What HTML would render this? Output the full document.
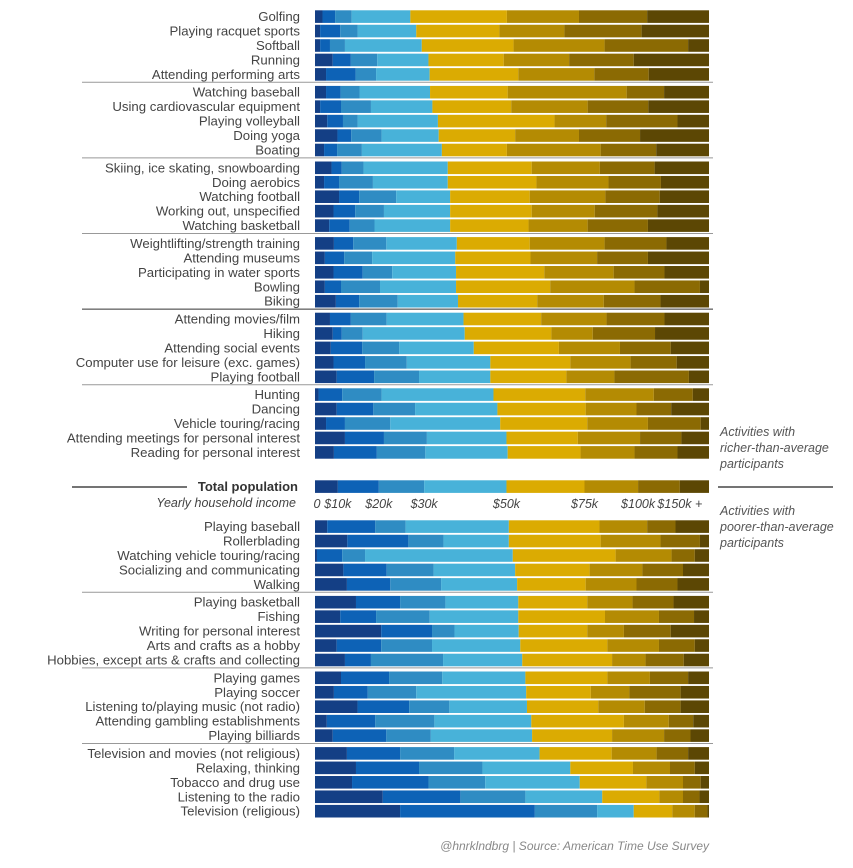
<!DOCTYPE html>
<html><head><meta charset="utf-8"><style>
html,body{margin:0;padding:0;background:#fff;}
svg{display:block;font-family:"Liberation Sans",sans-serif;}
</style></head><body>
<svg id="chart" width="853" height="868" viewBox="0 0 853 868">
<g id="seps"></g>
<g id="bars"></g>
<g id="labels"></g>
<line x1="72" y1="487" x2="187" y2="487" stroke="#222" stroke-width="1.3"/>
<line x1="718" y1="487" x2="833" y2="487" stroke="#222" stroke-width="1.3"/>
<text x="298" y="491" text-anchor="end" font-size="13" font-weight="bold" fill="#333">Total population</text>
<text x="296" y="507" text-anchor="end" font-size="12.5" font-style="italic" fill="#444">Yearly household income</text>
<g id="ticks"></g>
<g font-size="12.5" font-style="italic" fill="#555">
<text x="720" y="436">Activities with</text><text x="720" y="452">richer-than-average</text><text x="720" y="468">participants</text></g>
<g font-size="12.5" font-style="italic" fill="#555">
<text x="720" y="515">Activities with</text><text x="720" y="531">poorer-than-average</text><text x="720" y="547">participants</text></g>
<text x="709" y="850" text-anchor="end" font-size="12" font-style="italic" fill="#888">@hnrklndbrg | Source: American Time Use Survey</text>
</svg>
<script>
const brackets = ["0","$10k","$20k","$30k","$50k","$75k","$100k","$150k +"];
const colors = ["#143f85","#0d62b6","#2f8cc3","#48b2d9","#dbab02","#b48b03","#8b6a03","#5c4704"];
const topActivities = ["Golfing","Playing racquet sports","Softball","Running","Attending performing arts",
"Watching baseball","Using cardiovascular equipment","Playing volleyball","Doing yoga","Boating",
"Skiing, ice skating, snowboarding","Doing aerobics","Watching football","Working out, unspecified","Watching basketball",
"Weightlifting/strength training","Attending museums","Participating in water sports","Bowling","Biking",
"Attending movies/film","Hiking","Attending social events","Computer use for leisure (exc. games)","Playing football",
"Hunting","Dancing","Vehicle touring/racing","Attending meetings for personal interest","Reading for personal interest"];
// cumulative % of participants below each bracket boundary
const topCumulative = [
[1.9,5.1,9.3,24.2,48.7,67.0,84.3],[1.3,6.4,10.8,25.7,46.8,63.3,82.9],[1.3,3.8,7.6,27.1,50.4,73.5,94.7],[4.5,9.1,15.8,28.8,47.9,64.5,80.9],[2.8,10.3,15.5,29.1,51.6,70.9,84.7],
[2.8,6.5,11.3,29.2,48.9,79.1,88.6],[1.3,6.6,14.2,29.8,49.8,69.2,84.6],[3.1,7.1,10.8,31.2,60.8,73.9,92.0],[5.7,9.2,16.9,31.4,50.8,67.0,82.5],[2.3,5.6,11.9,32.2,48.7,72.5,86.6],
[4.2,6.8,12.3,33.7,55.0,72.3,86.2],[2.3,6.1,14.7,33.7,56.2,74.5,87.8],[6.1,11.2,20.6,34.3,54.5,73.7,87.5],[4.7,10.2,17.5,34.3,55.0,71.0,86.9],[3.6,8.8,15.1,34.3,54.2,69.2,84.5],
[4.8,9.7,18.1,36.0,54.5,73.5,89.2],[2.5,7.4,14.5,35.6,54.7,71.6,84.5],[4.7,12.1,19.6,35.8,58.2,75.8,88.7],[2.5,6.6,16.5,35.8,59.7,81.1,97.7],[5.3,11.2,21.0,36.3,56.4,73.3,87.7],
[3.8,9.1,18.2,37.7,57.4,74.0,88.7],[4.5,6.8,12.1,38.0,60.0,70.5,86.3],[4.0,12.0,21.4,40.3,61.9,77.4,90.3],[4.7,12.7,23.3,44.5,64.8,80.1,91.8],[5.5,15.0,26.4,44.5,63.8,76.0,94.9],
[0.9,6.9,16.9,45.3,68.6,86.0,95.9],[5.5,14.8,25.4,46.3,68.7,81.6,90.4],[2.8,7.6,19.1,47.0,69.1,84.5,97.9],[7.6,17.5,28.4,48.6,66.7,82.5,93.0],[4.8,15.7,28.0,48.9,67.4,81.1,92.0]];
const totalCumulative = [5.8,16.2,27.7,48.6,68.4,82.0,92.6];
const bottomActivities = ["Playing baseball","Rollerblading","Watching vehicle touring/racing","Socializing and communicating","Walking",
"Playing basketball","Fishing","Writing for personal interest","Arts and crafts as a hobby","Hobbies, except arts & crafts and collecting",
"Playing games","Playing soccer","Listening to/playing music (not radio)","Attending gambling establishments","Playing billiards",
"Television and movies (not religious)","Relaxing, thinking","Tobacco and drug use","Listening to the radio","Television (religious)"];
const bottomCumulative = [
[3.1,15.3,23.0,49.2,72.2,84.3,91.5],[8.2,23.7,32.6,49.2,72.5,87.7,97.7],[0.5,6.9,12.7,50.2,76.3,90.5,96.4],[7.2,18.2,30.1,50.8,69.7,83.1,93.4],[8.1,19.1,32.0,51.3,68.7,81.6,92.0],
[10.4,21.6,33.1,51.6,69.1,80.6,91.0],[6.4,15.5,29.1,51.6,73.6,87.3,96.2],[16.8,29.7,35.4,51.7,69.1,78.4,90.3],[5.5,16.8,29.7,52.1,74.2,87.3,96.4],[7.6,14.2,32.5,52.6,75.4,83.9,93.6],
[6.6,18.8,32.3,53.4,74.2,85.0,94.7],[4.8,13.4,25.7,53.6,70.0,79.8,92.8],[10.8,23.9,34.1,53.8,71.9,83.7,92.8],[3.0,15.3,30.3,54.9,78.4,89.8,96.0],[4.5,18.1,29.4,55.1,75.4,88.6,95.3],
[8.1,21.6,35.3,57.0,75.3,86.7,94.7],[10.4,26.4,42.5,64.8,80.7,90.1,96.4],[9.4,28.8,43.2,67.2,84.1,93.4,97.9],[17.2,36.9,53.4,72.9,87.4,93.4,97.6],[21.6,55.8,71.6,80.9,90.7,96.4,99.6]];

const NS="http://www.w3.org/2000/svg";
const X0=315, X1=709, BH=12.6;
const xScale = p => X0 + (X1-X0)*p/100;
const slug = s => s.toLowerCase().replace(/[^a-z0-9]+/g,'-').replace(/^-|-$/g,'');
function mk(tag, attrs, parent){const e=document.createElementNS(NS,tag);for(const k in attrs)e.setAttribute(k,attrs[k]);parent.appendChild(e);return e;}
const gb=document.getElementById('bars'), gl=document.getElementById('labels'), gs=document.getElementById('seps'), gt=document.getElementById('ticks');

function drawBar(cum, y, name){
  const g=mk('g',{},gb);
  
  
  const edges=[0].concat(cum,[100]);
  for(let i=0;i<8;i++){
    const r=mk('rect',{x:xScale(edges[i]),y:y,width:Math.max(0,xScale(edges[i+1])-xScale(edges[i])),height:BH,fill:colors[i]},g);
    
    
  }
}
function drawLabel(text, y){
  const t=mk('text',{x:300,y:y+BH/2+4.5,'text-anchor':'end','font-size':'13.2',fill:'#444'},gl);
  t.textContent=text;
  
  
}
function drawSep(y, dark){
  const l=mk('line',{x1:82,x2:713,y1:y,y2:y,stroke:dark?'#333':'#999','stroke-width':1},gs);
  
  
}
const pitch=14.45, groupPitch=75.6;
topActivities.forEach((a,i)=>{
  const grp=Math.floor(i/5), k=i%5;
  const y=10.3+grp*groupPitch+k*pitch;
  drawBar(topCumulative[i], y, a); drawLabel(a, y);
});
for(let g=1;g<6;g++) drawSep(10+g*groupPitch-3.3, g===4);
bottomActivities.forEach((a,i)=>{
  const grp=Math.floor(i/5), k=i%5;
  const y=520.3+grp*groupPitch+k*pitch;
  drawBar(bottomCumulative[i], y, a); drawLabel(a, y);
});
for(let g=1;g<4;g++) drawSep(520+g*groupPitch-3.3, false);
drawBar(totalCumulative, 480.3, 'total-population');
const tickPos=[0].concat(totalCumulative);
brackets.forEach((b,i)=>{
  const x = i===0 ? xScale(0)+2 : xScale(tickPos[i]);
  const t=mk('text',{x:x,y:508,'text-anchor':'middle','font-size':'12.5','font-style':'italic',fill:'#444'},gt);
  t.textContent=b;
  
  
});
</script>
</body></html>
